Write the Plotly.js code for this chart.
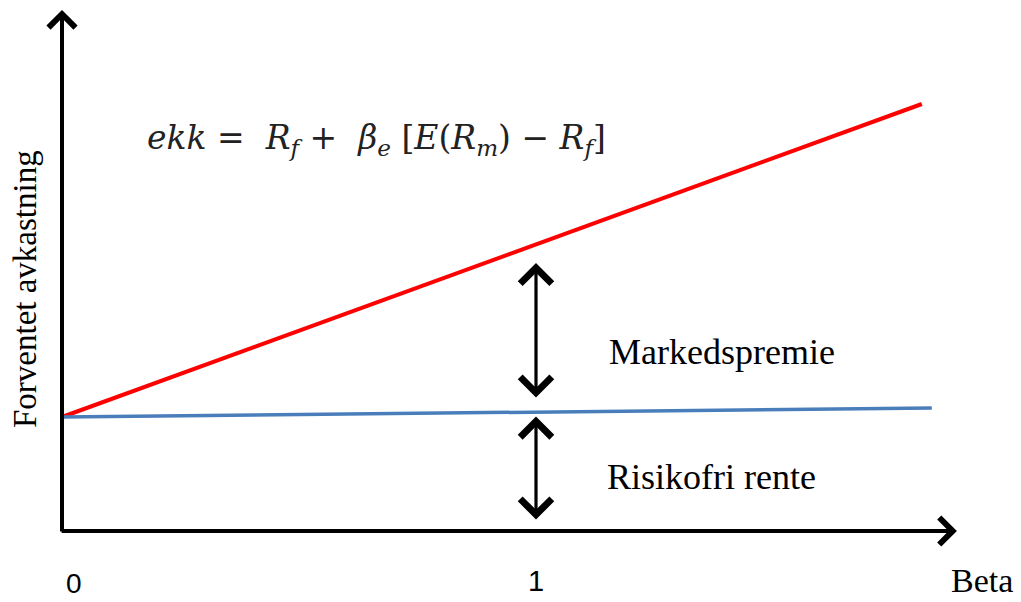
<!DOCTYPE html>
<html>
<head>
<meta charset="utf-8">
<script src="https://cdn.plot.ly/plotly-3.0.1.min.js"></script>
<style>html,body{margin:0;padding:0;background:#fff;}#chart{width:1021px;height:602px;}</style>
</head>
<body>
<div id="chart"></div>
<script>
// Data
var smlBeta = [0, 1.814];
var smlReturn = [2.28, 8.54];
var rfBeta = [0, 1.835];
var rfReturn = [2.28, 2.46];
var tickValues = [0, 1];
var tickLabels = ["0", "1"];
var xTitle = "Beta";
var yTitle = "Forventet avkastning";
var premiumLabel = "Markedspremie";
var riskFreeLabel = "Risikofri rente";
var formula = "<i>ekk</i> =  <i>R</i><sub><i>f</i></sub> +  <i>β</i><sub><i>e</i></sub> [<i>E</i>(<i>R</i><sub><i>m</i></sub>) − <i>R</i><sub><i>f</i></sub>]";

var serif = "Liberation Serif, Times New Roman, serif";

var traces = [
  {x: smlBeta, y: smlReturn, mode: "lines", line: {color: "#ff0000", width: 4}, hoverinfo: "skip", showlegend: false},
  {x: rfBeta, y: rfReturn, mode: "lines", line: {color: "#4a7ebb", width: 3.5}, hoverinfo: "skip", showlegend: false}
];

function arrow(x, y, ax, ay, w, size, both) {
  return {x: x, y: y, ax: ax, ay: ay, xref: "x", yref: "y", axref: "x", ayref: "y",
    text: "", showarrow: true, arrowhead: 4, startarrowhead: 4, arrowsize: size, startarrowsize: size,
    arrowwidth: w, arrowcolor: "#000", arrowside: both ? "end+start" : "end"};
}

var rfAt1 = rfReturn[0] + (rfReturn[1] - rfReturn[0]) * (1 / rfBeta[1]);
var smlAt1 = smlReturn[0] + (smlReturn[1] - smlReturn[0]) * (1 / smlBeta[1]);

var annotations = [
  // axes
  arrow(0, 10.42, 0, -0.04, 4, 1.3, false),
  arrow(1.888, 0, -0.004, 0, 4, 1.3, false),
  // market premium and risk-free arrows
  arrow(1, smlAt1 - 0.37, 1, rfAt1 + 0.26, 3.2, 1.9, true),
  arrow(1, rfAt1 - 0.09, 1, 0.2, 3.2, 1.9, true),
  // labels
  {x: 1.150, y: 3.58, xref: "x", yref: "y", text: premiumLabel, showarrow: false, xanchor: "left", yanchor: "middle",
    font: {family: serif, size: 36, color: "#000"}},
  {x: 1.146, y: 1.08, xref: "x", yref: "y", text: riskFreeLabel, showarrow: false, xanchor: "left", yanchor: "middle",
    font: {family: serif, size: 36, color: "#000"}},
  {x: 1.941, y: -0.98, xref: "x", yref: "y", text: xTitle, showarrow: false, xanchor: "center", yanchor: "middle",
    font: {family: serif, size: 34, color: "#000"}},
  {x: -0.078, y: 4.84, xref: "x", yref: "y", text: yTitle, showarrow: false, textangle: -90, xanchor: "center", yanchor: "middle",
    font: {family: serif, size: 33, color: "#000"}},
  {x: 0.176, y: 7.84, xref: "x", yref: "y", text: formula, showarrow: false, xanchor: "left", yanchor: "middle",
    font: {family: "DejaVu Serif, serif", size: 33, color: "#222"}},
  {x: tickValues[0], y: -1.4, xref: "x", yref: "y", xshift: 12, yanchor: "bottom", text: tickLabels[0], showarrow: false,
    font: {family: "Liberation Sans, Arial, sans-serif", size: 28, color: "#000"}},
  {x: tickValues[1], y: -1.0, xref: "x", yref: "y", text: tickLabels[1], showarrow: false,
    font: {family: "Liberation Sans, Arial, sans-serif", size: 29, color: "#000"}}
];

var layout = {
  width: 1021, height: 602,
  margin: {l: 0, r: 0, t: 0, b: 0, pad: 0},
  paper_bgcolor: "#fff", plot_bgcolor: "#fff",
  xaxis: {range: [-0.1308, 2.0232], visible: false, fixedrange: true},
  yaxis: {range: [-1.42, 10.62], visible: false, fixedrange: true},
  annotations: annotations,
  showlegend: false
};

Plotly.newPlot("chart", traces, layout, {displayModeBar: false, staticPlot: true});
</script>
</body>
</html>
